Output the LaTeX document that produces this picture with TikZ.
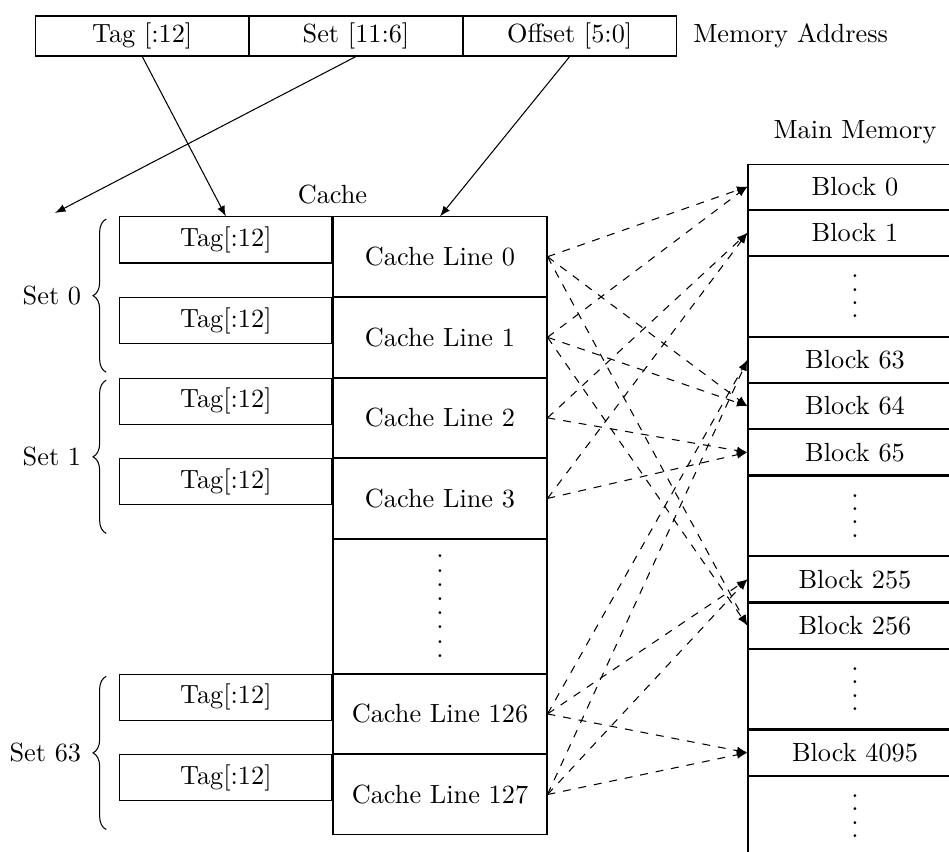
\documentclass[tikz,border=0pt]{standalone}
\usetikzlibrary{positioning,calc,decorations.pathreplacing}
\newcommand{\memdots}[2]{\vbox{\baselineskip=#2\lineskiplimit=0pt\foreach\k in {1,...,#1}{\hbox{.}}}}
\tikzset{
	addrbox/.style={draw, minimum width=2.843cm, minimum height=0.535cm, inner sep=0pt},
	tagbox/.style={draw, minimum width=2.835cm, minimum height=0.615cm, inner sep=0pt},
	linebox/.style={draw, minimum width=2.861cm, minimum height=1.063cm, inner sep=0pt},
	blockbox/.style={draw, minimum width=2.861cm, minimum height=0.604cm, inner sep=0pt},
	setbrace/.style={decorate, decoration={brace, amplitude=5pt}},
	mapline/.style={dashed, ->},
}
\begin{document}
\begin{tikzpicture}[>=latex]
				%%%%% START %%%%%
				\clip (0,0) rectangle (12.687,-11.377);
				
				% address fields
				\node[addrbox] (tagf) at (1.902,-0.481) {Tag [:12]};
				\node[addrbox, right=0pt of tagf] (setf) {Set [11:6]};
				\node[addrbox, right=0pt of setf] (offf) {Offset [5:0]};
				\node[right=0.1cm of offf] (addrlbl) {Memory Address};
				
				% cache
				\node[linebox] (cl0) at (5.882,-3.432) {Cache Line 0};
				\node[linebox, below=0pt of cl0] (cl1) {Cache Line 1};
				\node[linebox, below=0pt of cl1] (cl2) {Cache Line 2};
				\node[linebox, below=0pt of cl2] (cl3) {Cache Line 3};
				\node[linebox, below=0pt of cl3, minimum height=1.79cm] (cdots) {\memdots{8}{5.4pt}};
				\node[linebox, below=0pt of cdots] (cl126) {Cache Line 126};
				\node[linebox, below=0pt of cl126] (cl127) {Cache Line 127};
				\node[above=1pt of cl0.north west] (cachelbl) {Cache};
				
				\node[tagbox, anchor=north east] (tag0) at (cl0.north west) {Tag[:12]};
				\node[tagbox, anchor=north east] (tag1) at (cl1.north west) {Tag[:12]};
				\node[tagbox, anchor=north east] (tag2) at (cl2.north west) {Tag[:12]};
				\node[tagbox, anchor=north east] (tag3) at (cl3.north west) {Tag[:12]};
				\node[tagbox, anchor=north east] (tag126) at (cl126.north west) {Tag[:12]};
				\node[tagbox, anchor=north east] (tag127) at (cl127.north west) {Tag[:12]};
				
				\draw[setbrace] ($(tag1.west |- cl1.south)+(-5pt,2pt)$) -- ($(tag0.north west)+(-5pt,-1pt)$) node[midway, left=6pt] (set0) {Set 0};
				\draw[setbrace] ($(tag3.west |- cl3.south)+(-5pt,2pt)$) -- ($(tag2.north west)+(-5pt,-1pt)$) node[midway, left=6pt] (set1) {Set 1};
				\draw[setbrace] ($(tag127.west |- cl127.south)+(-5pt,2pt)$) -- ($(tag126.north west)+(-5pt,-1pt)$) node[midway, left=6pt] (set63) {Set 63};
				
				% main memory
				\node[blockbox] (b0) at (11.43,-2.495) {Block 0};
				\node[blockbox, below=0pt of b0] (b1) {Block 1};
				\node[blockbox, below=0pt of b1, minimum height=1.066cm] (mdots1) {\memdots{4}{5.1pt}};
				\node[blockbox, below=0pt of mdots1] (b63) {Block 63};
				\node[blockbox, below=0pt of b63] (b64) {Block 64};
				\node[blockbox, below=0pt of b64] (b65) {Block 65};
				\node[blockbox, below=0pt of b65, minimum height=1.066cm] (mdots2) {\memdots{4}{5.1pt}};
				\node[blockbox, below=0pt of mdots2] (b255) {Block 255};
				\node[blockbox, below=0pt of b255] (b256) {Block 256};
				\node[blockbox, below=0pt of b256, minimum height=1.066cm] (mdots3) {\memdots{4}{5.1pt}};
				\node[blockbox, below=0pt of mdots3] (b4095) {Block 4095};
				\node[blockbox, below=0pt of b4095, minimum height=1.066cm] (mdots4) {\memdots{4}{5.1pt}};
				\node[above=4pt of b0] (memlbl) {Main Memory};
				
				% address to cache
				\coordinate (setpt) at (0.735,-2.848);
				\draw[->] (tagf.south) -- (tag0.north);
				\draw[->] (setf.south) -- (setpt);
				\draw[->] (offf.south) -- (cl0.north);
				
				% mapping
				\draw[mapline] (cl0.east) -- (b0.west);
				\draw[mapline] (cl0.east) -- (b64.west);
				\draw[mapline] (cl0.east) -- (b256.west);
				\draw[mapline] (cl1.east) -- (b0.west);
				\draw[mapline] (cl1.east) -- (b64.west);
				\draw[mapline] (cl1.east) -- (b256.west);
				\draw[mapline] (cl2.east) -- (b1.west);
				\draw[mapline] (cl2.east) -- (b65.west);
				\draw[mapline] (cl3.east) -- (b1.west);
				\draw[mapline] (cl3.east) -- (b65.west);
				\draw[mapline] (cl126.east) -- (b63.west);
				\draw[mapline] (cl126.east) -- (b255.west);
				\draw[mapline] (cl126.east) -- (b4095.west);
				\draw[mapline] (cl127.east) -- (b63.west);
				\draw[mapline] (cl127.east) -- (b255.west);
				\draw[mapline] (cl127.east) -- (b4095.west);
				%%%%% END %%%%%
\end{tikzpicture}
\end{document}
